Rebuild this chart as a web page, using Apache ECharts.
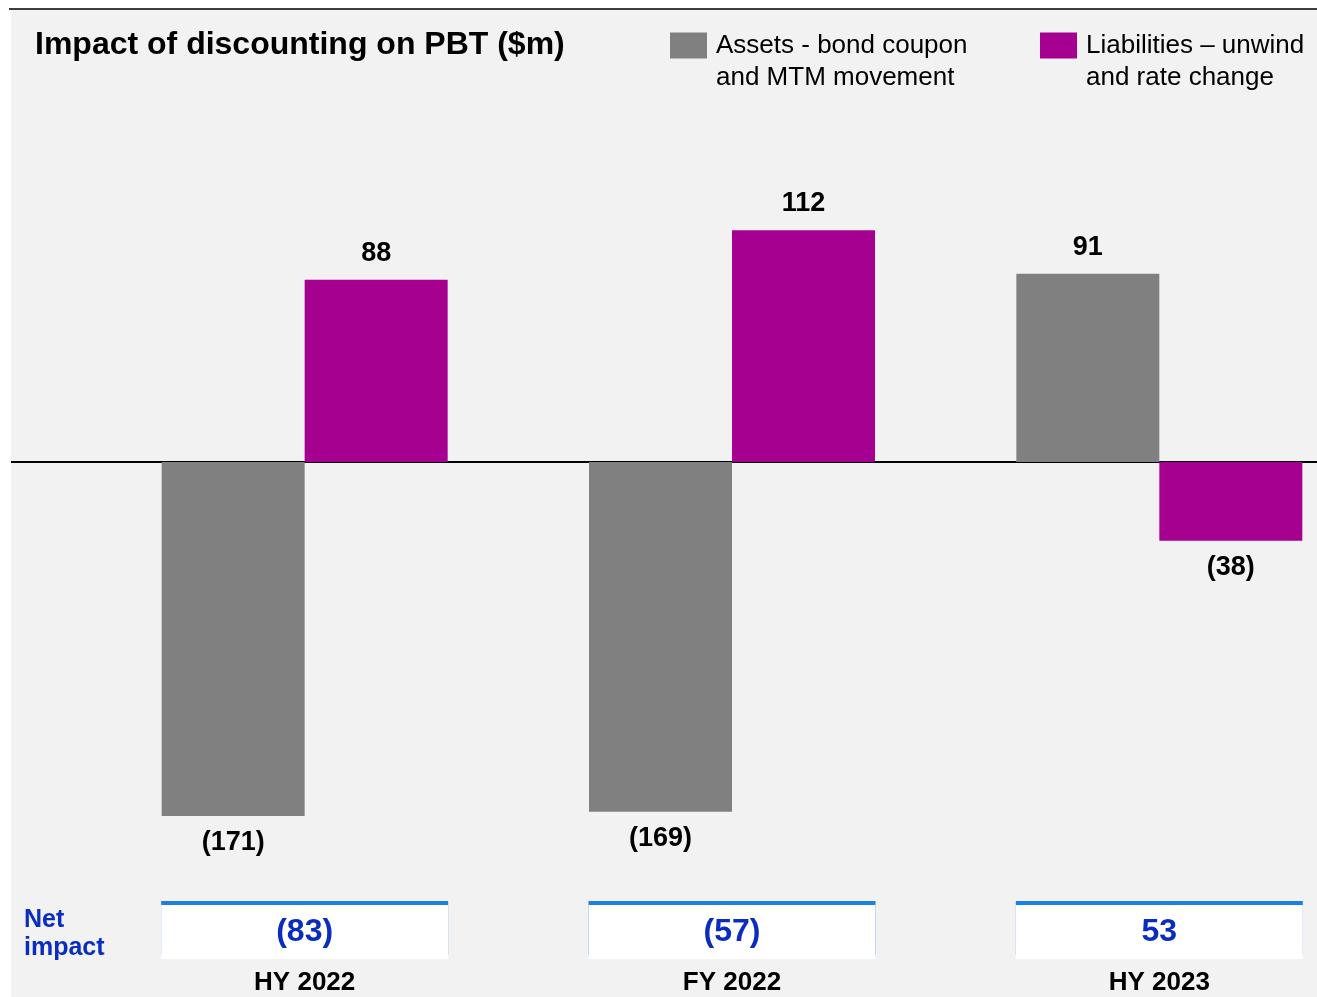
<!DOCTYPE html>
<html>
<head>
<meta charset="utf-8">
<script src="https://cdn.jsdelivr.net/npm/echarts@6/dist/echarts.min.js"></script>
<style>
  body { margin: 0; background: #fff; }
  #topline { position: absolute; left: 9px; top: 8px; width: 1308px; height: 2px; background: #3c3c3c; }
  #main { position: absolute; left: 11px; top: 10px; width: 1306px; height: 987px; background: #f2f2f2; }
</style>
</head>
<body>
<div id="topline"></div>
<div id="main"></div>
<script>
var categories = ['HY 2022', 'FY 2022', 'HY 2023']
var assets = [-171, -169, 91]
var liabilities = [88, 112, -38]
var netImpact = [-83, -57, 53]
var seriesNames = ['Assets - bond coupon\nand MTM movement', 'Liabilities \u2013 unwind\nand rate change']

var font = 'Liberation Sans, Arial, sans-serif'
var chart = echarts.init(document.getElementById('main'))

// negative numbers shown in brackets
function fmt(v) {
  return v < 0 ? '(' + Math.abs(v) + ')' : '' + v
}

function toData(arr) {
  return arr.map(function (v) {
    return { value: v, label: { position: v < 0 ? 'bottom' : 'top' } }
  })
}

var barLabel = {
  show: true,
  distance: 13,
  color: '#000',
  fontFamily: font,
  fontWeight: 'bold',
  fontSize: 27,
  formatter: function (p) { return fmt(p.value) }
}

// empty first line so the icon sits next to the first text line
var legendText = {
  fontFamily: font,
  fontSize: 26,
  color: '#000',
  lineHeight: 32,
  padding: [3, 0, 0, 4]
}
function legendFmt(name) { return '\n' + name }

var option = {
  animation: false,
  title: [{
    text: 'Impact of discounting on PBT ($m)',
    left: 24,
    top: 19,
    padding: 0,
    textStyle: { fontFamily: font, fontSize: 32, fontWeight: 'bold', color: '#000' }
  }, {
    text: 'Net\nimpact',
    left: 13,
    top: 896,
    padding: 0,
    textStyle: { fontFamily: font, fontSize: 25, fontWeight: 'bold', color: '#0a2dbf', lineHeight: 28 }
  }],
  legend: [{
    data: [seriesNames[0]],
    formatter: legendFmt,
    left: 659,
    top: -14,
    padding: 0,
    icon: 'rect',
    itemWidth: 37,
    itemHeight: 26,
    textStyle: legendText
  }, {
    data: [seriesNames[1]],
    formatter: legendFmt,
    left: 1029,
    top: -14,
    padding: 0,
    icon: 'rect',
    itemWidth: 37,
    itemHeight: 26,
    textStyle: legendText
  }],
  grid: [
    { left: 80, width: 1282, top: 38, bottom: 121, outerBoundsMode: 'none', containLabel: false },
    { left: 0, right: 0, top: 38, bottom: 121, outerBoundsMode: 'none' }
  ],
  xAxis: [{
    type: 'category',
    gridIndex: 0,
    data: categories,
    axisLine: { show: false, onZero: false },
    axisTick: { show: false },
    axisLabel: {
      margin: 29,
      interval: 0,
      formatter: function (value, idx) {
        return '{net|' + fmt(netImpact[idx]) + '}\n{cat|' + value + '}'
      },
      rich: {
        net: {
          width: 287,
          height: 54,
          lineHeight: 54,
          align: 'center',
          backgroundColor: '#fff',
          shadowColor: '#1a7fe6',
          shadowBlur: 0,
          shadowOffsetY: -4,
          color: '#0a2dbf',
          fontFamily: font,
          fontWeight: 'bold',
          fontSize: 32
        },
        cat: {
          lineHeight: 48,
          align: 'center',
          color: '#000',
          fontFamily: font,
          fontWeight: 'bold',
          fontSize: 26
        }
      }
    }
  }, {
    // full width zero line
    type: 'value',
    gridIndex: 1,
    min: 0,
    max: 1,
    axisLine: { show: true, onZero: true, lineStyle: { color: '#000', width: 2 } },
    axisTick: { show: false },
    axisLabel: { show: false },
    splitLine: { show: false }
  }],
  yAxis: [{
    type: 'value',
    gridIndex: 0,
    min: -200,
    max: 200,
    show: false,
    splitLine: { show: false }
  }, {
    type: 'value',
    gridIndex: 1,
    min: -200,
    max: 200,
    show: false,
    splitLine: { show: false }
  }],
  series: [{
    name: seriesNames[0],
    type: 'bar',
    barWidth: 143,
    barGap: '0%',
    itemStyle: { color: '#808080' },
    label: barLabel,
    data: toData(assets)
  }, {
    name: seriesNames[1],
    type: 'bar',
    barWidth: 143,
    barGap: '0%',
    itemStyle: { color: '#a5008f' },
    label: barLabel,
    data: toData(liabilities)
  }]
}

chart.setOption(option)
</script>
</body>
</html>
